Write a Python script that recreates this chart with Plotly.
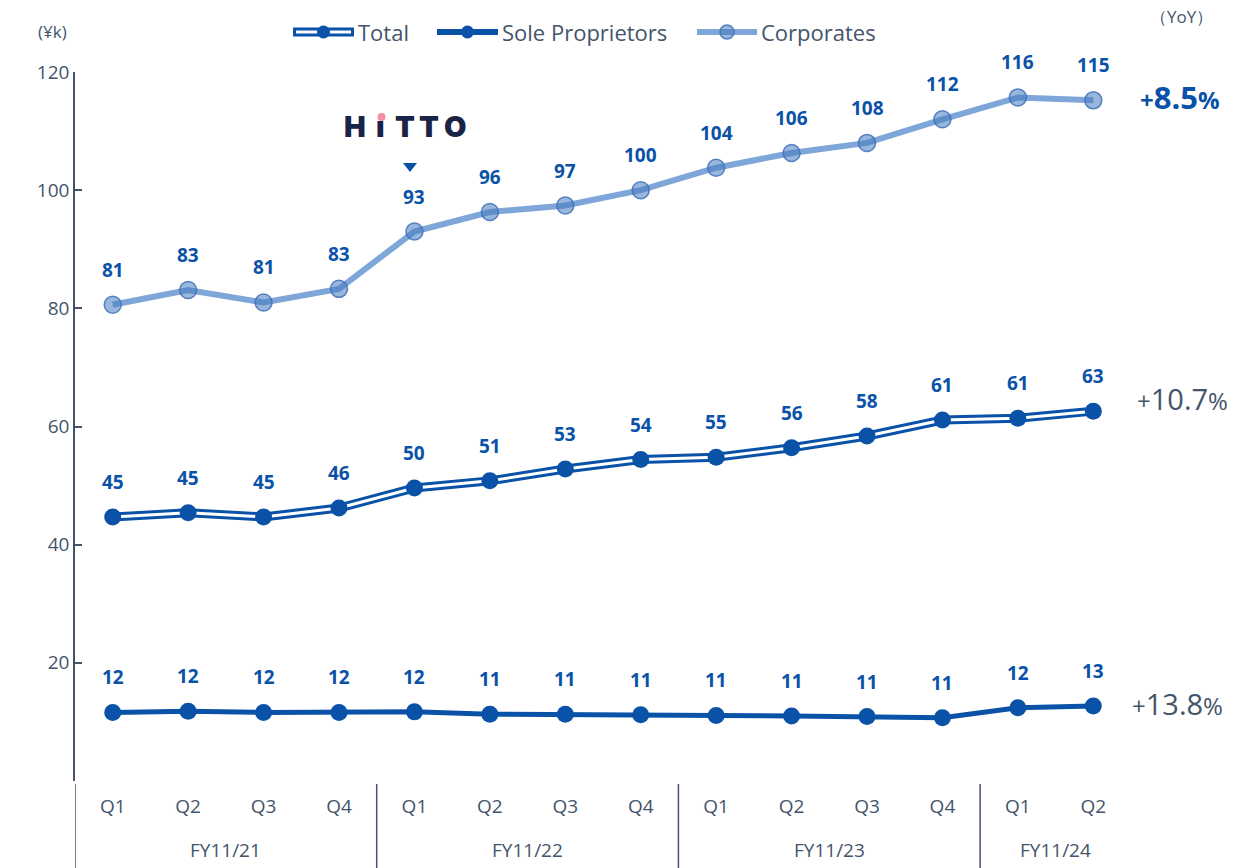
import plotly.graph_objects as go

# Quarterly values (¥k)
quarters = ["Q1", "Q2", "Q3", "Q4", "Q1", "Q2", "Q3", "Q4", "Q1", "Q2", "Q3", "Q4", "Q1", "Q2"]
fiscal_years = ["FY11/21", "FY11/22", "FY11/23", "FY11/24"]
fy_quarter_counts = [4, 4, 4, 2]
corporates = [80.6, 83.1, 81.0, 83.3, 93.0, 96.3, 97.4, 100.0, 103.8, 106.3, 108.0, 112.0, 115.7, 115.2]
total = [44.7, 45.4, 44.7, 46.2, 49.6, 50.8, 52.8, 54.4, 54.8, 56.4, 58.4, 61.1, 61.4, 62.6]
sole_proprietors = [11.6, 11.8, 11.6, 11.6, 11.7, 11.3, 11.3, 11.2, 11.1, 11.0, 10.9, 10.7, 12.4, 12.7]
yoy_corporates = "8.5"
yoy_total = "10.7"
yoy_sole = "13.8"

BLUE = "#0A52A8"
LIGHT = "#7EA6D9"
GRAY = "#44546A"
FONT = "Open Sans"

W, H = 1242, 868
L, R, T, B = 75, 111, 72, 87
PW, PH = W - L - R, H - T - B
x_idx = list(range(len(quarters)))


def px(x):
    return (x - L) / PW


def py(y):
    return (H - B - y) / PH


def label(x, y, text, size, color=GRAY, weight="normal", family=FONT, xanchor="center"):
    return dict(x=px(x), y=py(y), xref="paper", yref="paper", text=text, showarrow=False,
                xanchor=xanchor, yanchor="middle",
                font=dict(family=family, size=size, color=color, weight=weight))


fig = go.Figure()

# Corporates
fig.add_trace(go.Scatter(
    x=x_idx, y=corporates, mode="lines+markers",
    line=dict(color=LIGHT, width=6),
    marker=dict(size=17, color="rgba(70,122,192,0.55)", line=dict(color="rgba(62,112,186,0.85)", width=1.5)),
    showlegend=False, hoverinfo="skip"))

# Total: double line (thick blue with white core)
fig.add_trace(go.Scatter(x=x_idx, y=total, mode="lines", line=dict(color=BLUE, width=9),
                         showlegend=False, hoverinfo="skip"))
fig.add_trace(go.Scatter(x=x_idx, y=total, mode="lines", line=dict(color="white", width=3),
                         showlegend=False, hoverinfo="skip"))
fig.add_trace(go.Scatter(x=x_idx, y=total, mode="markers", marker=dict(size=17, color=BLUE),
                         showlegend=False, hoverinfo="skip"))

# Sole proprietors
fig.add_trace(go.Scatter(x=x_idx, y=sole_proprietors, mode="lines+markers",
                         line=dict(color=BLUE, width=5), marker=dict(size=17, color=BLUE),
                         showlegend=False, hoverinfo="skip"))

annotations = []
shapes = []

# Value labels
for series in (corporates, total, sole_proprietors):
    for i, v in enumerate(series):
        annotations.append(dict(x=i, y=v, xref="x", yref="y", text=f"{round(v)}", showarrow=False,
                                xanchor="center", yanchor="middle", yshift=35,
                                font=dict(family=FONT, size=19, color=BLUE, weight="bold")))

# Fiscal-year group labels and separators
start = 0
for fy, n in zip(fiscal_years, fy_quarter_counts):
    annotations.append(dict(x=start + (n - 1) / 2, y=py(850), xref="x", yref="paper", text=fy,
                            showarrow=False, xanchor="center", yanchor="middle",
                            font=dict(family=FONT, size=19, color=GRAY)))
    shapes.append(dict(type="line", xref="x", yref="paper", x0=start - 0.5, x1=start - 0.5,
                       y0=py(784), y1=py(868), line=dict(color=GRAY, width=1.5)))
    start += n

# Unit and YoY labels
annotations.append(label(52, 31, "(¥k)", 17))
annotations.append(label(1181, 17, "（YoY）", 17))
annotations.append(label(1180, 97, f"+<span style='font-size:31px'>{yoy_corporates}</span>%", 24,
                         color=BLUE, weight="bold"))
annotations.append(label(1182, 399, f"+<span style='font-size:29px'>{yoy_total}</span>%", 24))
annotations.append(label(1177, 703, f"+<span style='font-size:29px'>{yoy_sole}</span>%", 24))

# HiTTO logo
for ch, cx in zip(["H", "ı", "T", "T", "O"], [355, 380.5, 404.5, 428.5, 455.5]):
    annotations.append(label(cx, 126, ch, 29, color="#1B2447", weight=900, family="Inter"))
shapes.append(dict(type="circle", xref="paper", yref="paper", x0=px(377.5), x1=px(385.5),
                   y0=py(121), y1=py(113), fillcolor="#F4909F", line=dict(width=0)))
shapes.append(dict(type="path", xref="paper", yref="paper",
                   path=f"M {px(403)},{py(163)} L {px(417)},{py(163)} L {px(410)},{py(172)} Z",
                   fillcolor=BLUE, line=dict(width=0)))

# Legend
LEG_Y = 32
legend_items = [
    ("Total", 293, 354, "total"),
    ("Sole Proprietors", 437, 498, "sole"),
    ("Corporates", 697, 757, "corp"),
]
for name, x0, x1, kind in legend_items:
    cx = (x0 + x1) / 2
    if kind == "corp":
        shapes.append(dict(type="line", xref="paper", yref="paper", x0=px(x0), x1=px(x1),
                           y0=py(LEG_Y), y1=py(LEG_Y), line=dict(color=LIGHT, width=6)))
        shapes.append(dict(type="circle", xref="paper", yref="paper", x0=px(cx - 7), x1=px(cx + 7),
                           y0=py(LEG_Y + 7), y1=py(LEG_Y - 7), fillcolor="rgba(70,122,192,0.55)",
                           line=dict(color="rgba(62,112,186,0.85)", width=1.5)))
    else:
        shapes.append(dict(type="line", xref="paper", yref="paper", x0=px(x0), x1=px(x1),
                           y0=py(LEG_Y), y1=py(LEG_Y), line=dict(color=BLUE, width=9 if kind == "total" else 6)))
        if kind == "total":
            shapes.append(dict(type="line", xref="paper", yref="paper", x0=px(x0 + 3), x1=px(x1 - 3),
                               y0=py(LEG_Y), y1=py(LEG_Y), line=dict(color="white", width=3)))
        shapes.append(dict(type="circle", xref="paper", yref="paper", x0=px(cx - 6.5), x1=px(cx + 6.5),
                           y0=py(LEG_Y + 6.5), y1=py(LEG_Y - 6.5), fillcolor=BLUE, line=dict(width=0)))
    annotations.append(label(x1 + 2, LEG_Y, name, 22, xanchor="left"))

fig.update_layout(
    width=W, height=H,
    margin=dict(l=L, r=R, t=T, b=B),
    paper_bgcolor="white", plot_bgcolor="white",
    font=dict(family=FONT, color=GRAY),
    showlegend=False,
    annotations=annotations,
    shapes=shapes,
    xaxis=dict(range=[-0.5, len(quarters) - 0.5], tickvals=x_idx, ticktext=quarters,
               showgrid=False, zeroline=False, showline=False, ticks="",
               tickfont=dict(family=FONT, size=19, color=GRAY), ticklabelstandoff=12),
    yaxis=dict(range=[0, 120], tickvals=[20, 40, 60, 80, 100, 120], showgrid=False, zeroline=False,
               showline=True, linecolor=GRAY, linewidth=1.5, ticks="inside", ticklen=7,
               tickwidth=1.5, tickcolor=GRAY, tickfont=dict(family=FONT, size=19, color=GRAY)),
)

fig.write_html("out.html")
